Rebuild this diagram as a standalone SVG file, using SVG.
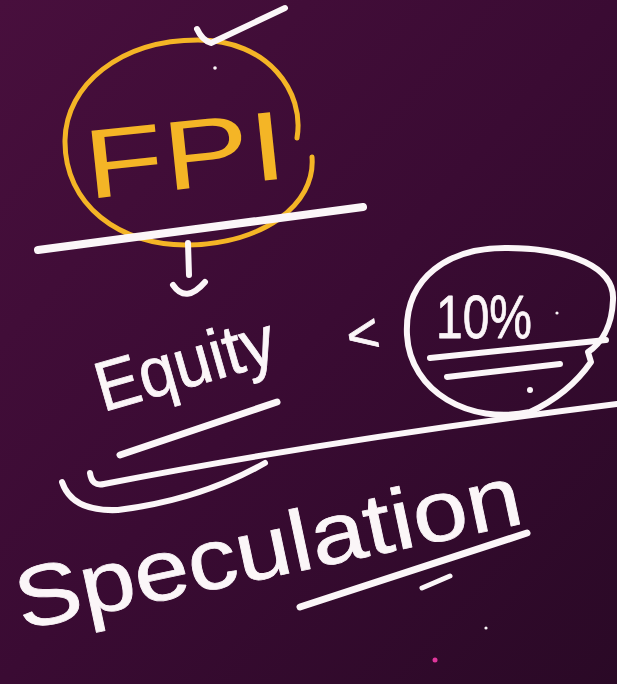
<svg xmlns="http://www.w3.org/2000/svg" width="617" height="684" viewBox="0 0 617 684">
  <defs>
    <linearGradient id="bg" x1="0" y1="0" x2="1" y2="1">
      <stop offset="0" stop-color="#480f3d"/>
      <stop offset="0.5" stop-color="#3a0b33"/>
      <stop offset="1" stop-color="#2a0926"/>
    </linearGradient>
    <style>
      .w { fill: none; stroke: #fbf6f8; stroke-linecap: round; stroke-linejoin: round; }
      .y { fill: none; stroke: #f4b526; stroke-linecap: round; stroke-width: 5; }
      .hand { font-family: "Liberation Sans", "DejaVu Sans", sans-serif; }
      .wt { fill: #fbf6f8; stroke: #fbf6f8; stroke-width: 0.8; stroke-linejoin: round; }
      .yt { fill: #f4b526; }
    </style>
  </defs>
  <rect width="617" height="684" fill="url(#bg)"/>

  <g id="fpi">
    <path class="y" d="M297,138 C305,92 268,40 198,40 C120,40 66,85 65,140 C64,205 120,246 188,245 C262,244 316,205 312,157"/>
    <text class="hand yt" x="88" y="199" font-size="98" textLength="202" lengthAdjust="spacingAndGlyphs" transform="rotate(-6 88 199)">FPI</text>
  </g>

  <g id="check">
    <path class="w" stroke-width="6" d="M197,29 Q202,40 211,43 L285,8"/>
    <circle cx="215" cy="68" r="1.8" fill="#fbf6f8"/>
  </g>

  <g id="equity">
    <text class="hand wt" x="103" y="412" font-size="70" textLength="184" lengthAdjust="spacingAndGlyphs" transform="rotate(-16 103 412)">Equity</text>
  </g>

  <g id="lessthan">
    <text class="hand wt" x="350" y="356" font-size="56" stroke-width="0.5" transform="rotate(-10 350 356)">&lt;</text>
  </g>

  <g id="ten-percent">
    <path class="w" stroke-width="6" d="M530,412 C470,425 410,392 407,335 C404,276 450,248 505,248 C572,248 615,268 613,300 C612,328 600,344 588,352 L591,362 C575,385 556,400 530,412"/>
    <text class="hand wt" x="436" y="338" font-size="62" stroke-width="0.4" textLength="96" lengthAdjust="spacingAndGlyphs">10%</text>
    <circle cx="557" cy="313" r="1.6" fill="#fbf6f8"/>
    <path class="w" stroke-width="6" d="M430,358 L606,340"/>
    <path class="w" stroke-width="6" d="M447,377 L560,364"/>
    <circle cx="530" cy="390" r="3" fill="#fbf6f8"/>
  </g>

  <g id="speculation">
    <text class="hand wt" x="22" y="630" font-size="86" stroke-width="0.6" textLength="515" lengthAdjust="spacingAndGlyphs" transform="rotate(-12 22 630)">Speculation</text>
  </g>

  <g id="connectors">
    <path class="w" stroke-width="8" d="M38,250 L363,207"/>
    <path class="w" stroke-width="6" d="M188,243 L189,275"/>
    <path class="w" stroke-width="6" d="M173,285 Q186,304 205,282"/>
    <path class="w" stroke-width="7" d="M120,455 L277,402"/>
    <path class="w" stroke-width="6" d="M90,473 Q92,487 104,484 Q330,440 617,404"/>
    <path class="w" stroke-width="6" d="M62,482 Q72,512 118,510 Q200,500 265,463"/>
    <path class="w" stroke-width="7" d="M300,607 L527,533"/>
    <path class="w" stroke-width="5" d="M422,588 L450,576"/>
    <circle cx="486" cy="628" r="1.6" fill="#fbf6f8"/>
    <circle cx="435" cy="660" r="2.5" fill="#e0369c"/>
  </g>
</svg>
